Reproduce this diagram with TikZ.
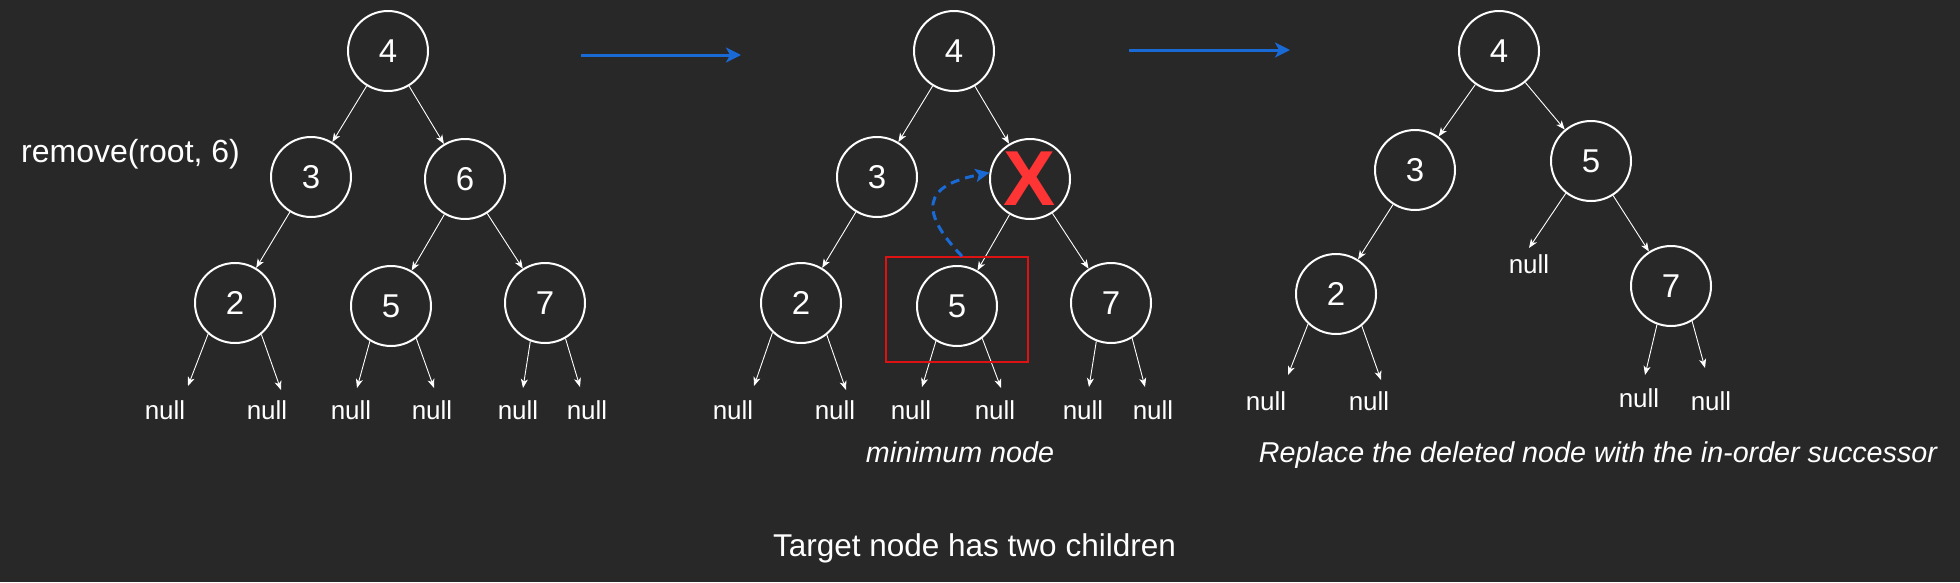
\documentclass[tikz,border=0pt]{standalone}
\usepackage{fontspec}
\setmainfont{Liberation Sans}
\usetikzlibrary{arrows.meta}
\definecolor{bg}{RGB}{40,40,40}
\definecolor{arrowblue}{RGB}{26,106,214}
\definecolor{xred}{RGB}{255,52,52}
\definecolor{boxred}{RGB}{222,18,18}
\tikzset{
  num/.style={circle, draw=white, line width=2pt, fill=bg, minimum size=80pt, inner sep=0pt,
    text=white, font=\fontsize{33}{36}\selectfont},
  nulltxt/.style={anchor=base, inner sep=0pt, text=white, font=\fontsize{26}{30}\selectfont},
  edge/.style={draw=white, line width=0.9pt, -{Stealth[length=9pt,width=7pt,inset=2.5pt]}},
  bluearrow/.style={draw=arrowblue, line width=3pt, -{Stealth[length=15pt,width=15pt,inset=4pt]}},
  movearrow/.style={draw=arrowblue, line width=3pt, dash pattern=on 9pt off 6pt,
    -{Stealth[length=14pt,width=13pt,inset=3pt]}},
  caption/.style={anchor=base, inner sep=0pt, text=white, font=\itshape\fontsize{28.7}{32}\selectfont},
  plain/.style={inner sep=0pt, text=white}
}
\begin{document}
\begin{tikzpicture}[x=1pt,y=-1pt]
\fill[bg] (0,0) rectangle (1960,582);
\useasboundingbox (0,0) rectangle (1960,582);

% ---------- tree 1 ----------
\node[num] (a4) at (388,51) {4};
\node[num] (a3) at (311,177) {3};
\node[num] (a6) at (465,179) {6};
\node[num] (a2) at (235,303) {2};
\node[num] (a5) at (391,306) {5};
\node[num] (a7) at (545,303) {7};
\draw[edge] (a4) -- (a3);
\draw[edge] (a4) -- (a6);
\draw[edge] (a3) -- (a2);
\draw[edge] (a6) -- (a5);
\draw[edge] (a6) -- (a7);
\node[nulltxt] (an1) at (165,419) {null};
\node[nulltxt] (an2) at (267,419) {null};
\node[nulltxt] (an3) at (351,419) {null};
\node[nulltxt] (an4) at (432,419) {null};
\node[nulltxt] (an5) at (518,419) {null};
\node[nulltxt] (an6) at (587,419) {null};
\coordinate (at1) at (188,386);
\coordinate (at2) at (281,390);
\coordinate (at3) at (357,388);
\coordinate (at4) at (434,388);
\coordinate (at5) at (523,388);
\coordinate (at6) at (580,387);
\draw[edge] (a2.229) -- (at1);
\draw[edge] (a2.310) -- (at2);
\draw[edge] (a5.239) -- (at3);
\draw[edge] (a5.308) -- (at4);
\draw[edge] (a7.249) -- (at5);
\draw[edge] (a7.300) -- (at6);
\node[plain, anchor=base west, font=\fontsize{32}{36}\selectfont] (call) at (21,162) {remove(root, 6)};

% ---------- arrows between stages ----------
\coordinate (b1s) at (581,55);
\coordinate (b1e) at (741,55);
\coordinate (b2s) at (1129,50);
\coordinate (b2e) at (1290,50);
\draw[bluearrow] (b1s) -- (b1e);
\draw[bluearrow] (b2s) -- (b2e);

% ---------- tree 2 ----------
\node[num] (m4) at (954,51) {4};
\node[num] (m3) at (877,177) {3};
\node[num, text=xred, font=\bfseries\fontsize{78}{80}\selectfont] (m6) at (1030,179) {X};
\node[num] (m2) at (801,303) {2};
\node[num] (m5) at (957,306) {5};
\node[num] (m7) at (1111,303) {7};
\draw[edge] (m4) -- (m3);
\draw[edge] (m4) -- (m6);
\draw[edge] (m3) -- (m2);
\draw[edge] (m6) -- (m5);
\draw[edge] (m6) -- (m7);
\node[nulltxt] (mn1) at (733,419) {null};
\node[nulltxt] (mn2) at (835,419) {null};
\node[nulltxt] (mn3) at (911,419) {null};
\node[nulltxt] (mn4) at (995,419) {null};
\node[nulltxt] (mn5) at (1083,419) {null};
\node[nulltxt] (mn6) at (1153,419) {null};
\coordinate (mt1) at (754,386);
\coordinate (mt2) at (846,390);
\coordinate (mt3) at (922,387);
\coordinate (mt4) at (1001,388);
\coordinate (mt5) at (1089,387);
\coordinate (mt6) at (1145,387);
\draw[edge] (m2.226) -- (mt1);
\draw[edge] (m2.309) -- (mt2);
\draw[edge] (m5.239) -- (mt3);
\draw[edge] (m5.308) -- (mt4);
\draw[edge] (m7.249) -- (mt5);
\draw[edge] (m7.301) -- (mt6);
\node[draw=boxred, line width=1.6pt, minimum width=142pt, minimum height=105pt, inner sep=0pt] (minbox) at (957,309.5) {};
\coordinate (dstart) at ([xshift=5pt]minbox.north);
\draw[movearrow] (dstart) .. controls (908,200) and (938,183) .. (m6.171);
\node[caption] (mincap) at (960,462) {minimum node};

% ---------- tree 3 ----------
\node[num] (r4) at (1499,51) {4};
\node[num] (r3) at (1415,170) {3};
\node[num] (r5) at (1591,161) {5};
\node[num] (r2) at (1336,294) {2};
\node[num] (r7) at (1671,286) {7};
\draw[edge] (r4) -- (r3);
\draw[edge] (r4) -- (r5);
\draw[edge] (r3) -- (r2);
\draw[edge] (r5) -- (r7);
\node[nulltxt] (rn0) at (1529,273) {null};
\node[nulltxt] (rn1) at (1266,410) {null};
\node[nulltxt] (rn2) at (1369,410) {null};
\node[nulltxt] (rn3) at (1639,407) {null};
\node[nulltxt] (rn4) at (1711,410) {null};
\coordinate (rt0) at (1529,248);
\coordinate (rt1) at (1288,375);
\coordinate (rt2) at (1381,380);
\coordinate (rt3) at (1645,375);
\coordinate (rt4) at (1705,368);
\draw[edge] (r5.232) -- (rt0);
\draw[edge] (r2.227) -- (rt1);
\draw[edge] (r2.309) -- (rt2);
\draw[edge] (r7.250) -- (rt3);
\draw[edge] (r7.301) -- (rt4);
\node[caption] (repcap) at (1598,462) {Replace the deleted node with the in-order successor};

% ---------- bottom caption ----------
\node[plain, anchor=base, font=\fontsize{31.5}{34}\selectfont] (title) at (974.5,556) {Target node has two children};
\end{tikzpicture}
\end{document}
